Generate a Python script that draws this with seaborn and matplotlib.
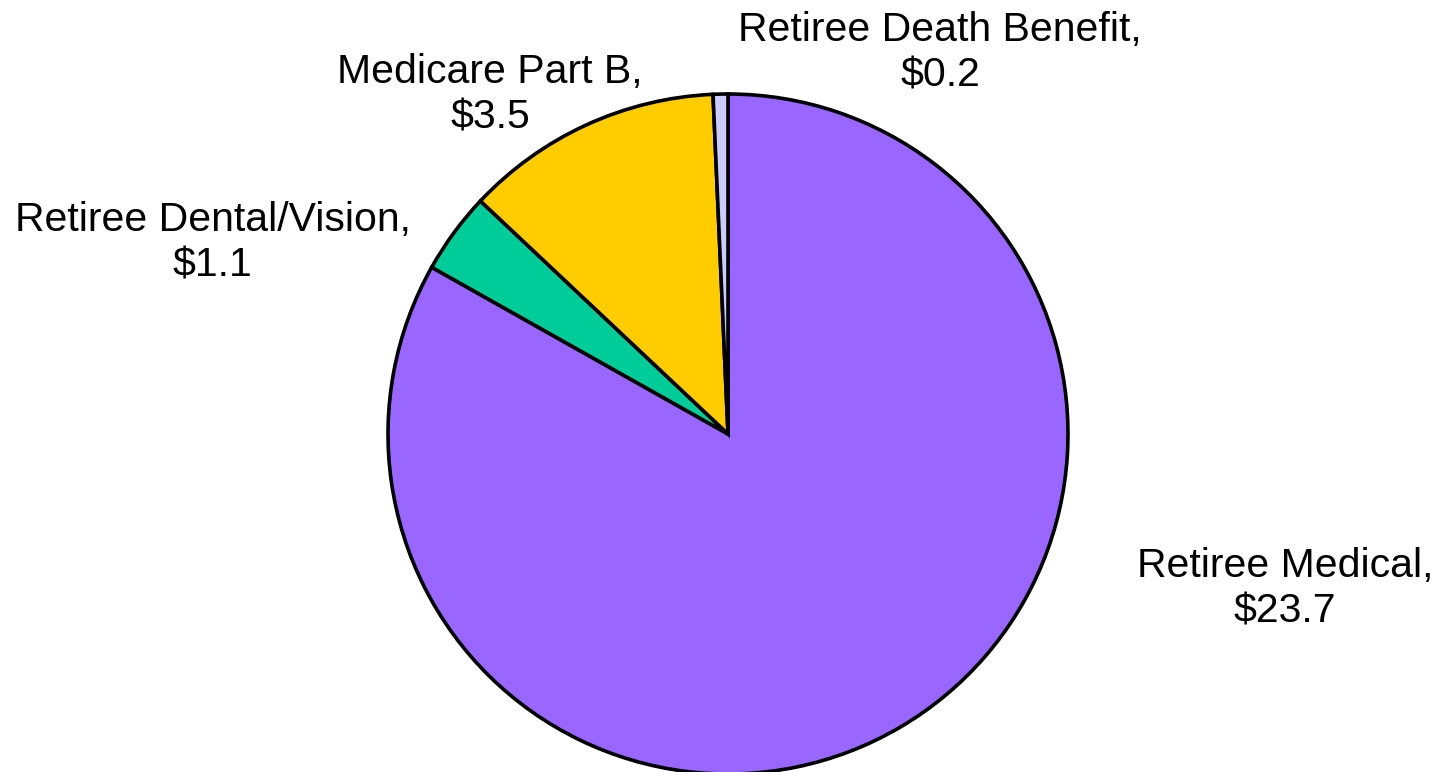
import matplotlib
matplotlib.use("Agg")
import matplotlib.pyplot as plt
import seaborn as sns

sns.set_theme(style="white")
plt.rcParams["font.family"] = ["Liberation Sans", "DejaVu Sans"]

# Retiree benefit costs ($ billions)
categories = ["Retiree Medical", "Retiree Dental/Vision", "Medicare Part B", "Retiree Death Benefit"]
values = [23.7, 1.1, 3.5, 0.2]
colors = ["#9966FF", "#00CC99", "#FFCC00", "#CCCCFF"]

# label anchor points (data units, pie radius = 1)
label_pos = [(1.638, -0.455), (-1.515, 0.562), (-0.70, 0.997), (0.624, 1.121)]

fig = plt.figure(figsize=(14.42, 7.72), dpi=100)
ax = fig.add_axes([0, 0, 1, 1])

ax.pie(values, colors=colors, startangle=90, counterclock=False,
       radius=1.0, center=(0, 0),
       wedgeprops=dict(edgecolor="black", linewidth=2.6))

for cat, val, (x, y) in zip(categories, values, label_pos):
    ax.text(x, y, f"{cat},\n${val:.1f}", ha="center", va="center",
            fontsize=29.5, color="black", linespacing=1.25)

ax.set_xlim(-728 / 340, (1442 - 728) / 340)
ax.set_ylim(-(772 - 434) / 340, 434 / 340)
ax.set_aspect("auto")
ax.axis("off")

fig.savefig("out.png", dpi=100, facecolor="white")
